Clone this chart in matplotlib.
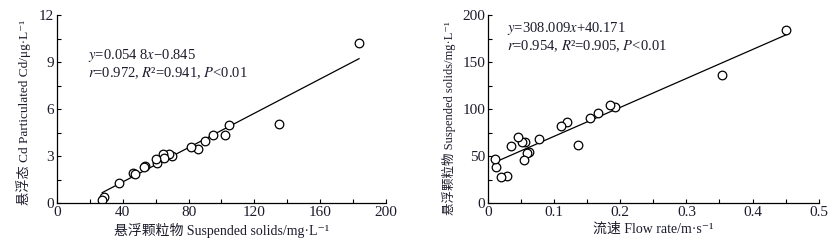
import numpy as np
import matplotlib
matplotlib.use('Agg')
import matplotlib.pyplot as plt
from matplotlib.ticker import MultipleLocator

plt.rcParams['font.family'] = ['Liberation Serif', 'Noto Sans CJK SC', 'DejaVu Sans']
plt.rcParams['mathtext.fontset'] = 'stix'
plt.rcParams['font.size'] = 10

#  Left panel: suspended solids vs particulated Cd
ss_left = [183.6, 135.2, 104.7, 102.0, 95.1, 89.9, 85.8, 81.6, 70.0, 68.2, 64.2,
           64.8, 60.7, 60.1, 53.4, 52.6, 46.4, 47.2, 37.7, 28.3, 27.5]
cd_left = [10.23, 5.04, 5.00, 4.34, 4.36, 3.96, 3.45, 3.57, 2.98, 3.10, 3.15,
           2.87, 2.57, 2.83, 2.34, 2.30, 1.91, 1.87, 1.28, 0.40, 0.21]
slope_l, icpt_l = 0.0548, -0.845

#  Right panel: flow rate vs suspended solids
flow = [0.451, 0.3535, 0.1923, 0.1838, 0.1657, 0.154, 0.1354, 0.1198, 0.1098, 0.077,
        0.0624, 0.059, 0.0554, 0.0519, 0.0539, 0.0458, 0.0347, 0.0287, 0.0201, 0.0126, 0.0111]
ss_right = [184.0, 135.8, 102.5, 104.6, 95.7, 90.1, 61.3, 86.2, 82.3, 68.4,
            53.9, 53.2, 64.5, 65.2, 45.7, 70.6, 60.6, 28.4, 27.7, 37.9, 46.8]
slope_r, icpt_r = 308.009, 40.171

txtcol = '#1c1c2c'

fig = plt.figure(figsize=(8.33, 2.45), dpi=100)
ax1 = fig.add_axes([0.0684, 0.1714, 0.395, 0.767])
ax2 = fig.add_axes([0.5858, 0.1714, 0.397, 0.767])

def style(ax):
    for s in ['top', 'right']:
        ax.spines[s].set_visible(False)
    for s in ['left', 'bottom']:
        ax.spines[s].set_linewidth(0.9)
    ax.tick_params(which='both', direction='in', length=3, width=0.8,
                   labelsize=11, colors='black', labelcolor=txtcol, pad=2)

# left
xs = np.array([min(ss_left), max(ss_left)])
ax1.plot(xs, slope_l * xs + icpt_l, color='black', lw=0.9)
ax1.plot(ss_left, cd_left, 'o', mfc='white', mec='black', mew=0.9, ms=6.2)
ax1.set_xlim(0, 200)
ax1.set_ylim(0, 12)
ax1.xaxis.set_major_locator(MultipleLocator(40))
ax1.xaxis.set_minor_locator(MultipleLocator(20))
ax1.yaxis.set_major_locator(MultipleLocator(3))
ax1.yaxis.set_minor_locator(MultipleLocator(1.5))
style(ax1)
ax1.set_xlabel('悬浮颗粒物 Suspended solids/mg·L⁻¹', fontsize=10, color=txtcol, labelpad=3)
ax1.set_ylabel('悬浮态 Cd Particulated Cd/μg·L⁻¹', fontsize=9.5, color=txtcol)
ax1.yaxis.set_label_coords(-0.078, 0.48)
ax1.text(0.094, 0.83, '$y$=0.054 8$x$−0.845\n$r$=0.972, $R$²=0.941, $P$<0.01',
         transform=ax1.transAxes, va='top', ha='left', fontsize=10.5, color=txtcol,
         linespacing=1.1)

# right
xs = np.array([min(flow), max(flow)])
ax2.plot(xs, slope_r * xs + icpt_r, color='black', lw=0.9)
ax2.plot(flow, ss_right, 'o', mfc='white', mec='black', mew=0.9, ms=6.2)
ax2.set_xlim(0, 0.5)
ax2.set_ylim(0, 200)
ax2.xaxis.set_major_locator(MultipleLocator(0.1))
ax2.xaxis.set_minor_locator(MultipleLocator(0.05))
ax2.yaxis.set_major_locator(MultipleLocator(50))
ax2.yaxis.set_minor_locator(MultipleLocator(25))
ax2.xaxis.set_major_formatter(lambda v, p: '0' if v == 0 else f'{v:g}')
style(ax2)
ax2.set_xlabel('流速 Flow rate/m·s⁻¹', fontsize=10, color=txtcol, labelpad=3)
ax2.set_ylabel('悬浮颗粒物 Suspended solids/mg·L⁻¹', fontsize=9, color=txtcol)
ax2.yaxis.set_label_coords(-0.098, 0.45)
ax2.text(0.057, 0.975, '$y$=308.009$x$+40.171\n$r$=0.954, $R$²=0.905, $P$<0.01',
         transform=ax2.transAxes, va='top', ha='left', fontsize=10.5, color=txtcol,
         linespacing=1.1)

fig.savefig('out.png', dpi=100)
